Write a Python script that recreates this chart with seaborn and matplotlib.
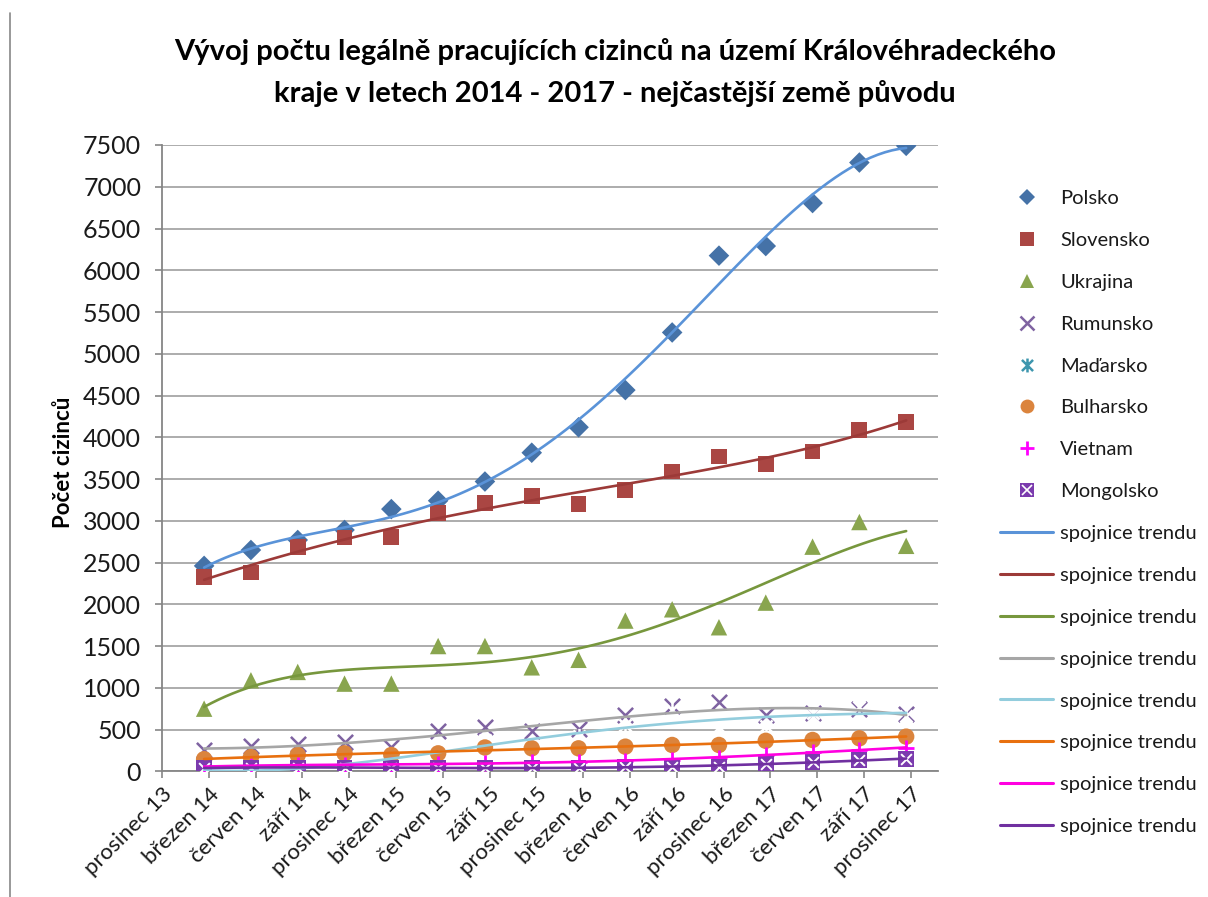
import numpy as np
import pandas as pd
import matplotlib
matplotlib.use("Agg")
import matplotlib.pyplot as plt
import seaborn as sns
from matplotlib.path import Path
from matplotlib.lines import Line2D
from matplotlib.legend_handler import HandlerTuple

# ---------------- data ----------------
tick_labels = ["prosinec 13", "březen 14", "červen 14", "září 14", "prosinec 14",
               "březen 15", "červen 15", "září 15", "prosinec 15", "březen 16",
               "červen 16", "září 16", "prosinec 16", "březen 17", "červen 17",
               "září 17", "prosinec 17"]
quarter_index = list(range(1, 17))  # březen 14 .. prosinec 17

polsko = [2460, 2650, 2770, 2890, 3140, 3240, 3470, 3815, 4120, 4565, 5255, 6175, 6290, 6805, 7290, 7490]
slovensko = [2330, 2380, 2685, 2800, 2810, 3090, 3210, 3300, 3200, 3370, 3590, 3770, 3680, 3830, 4085, 4185]
ukrajina = [750, 1090, 1190, 1050, 1050, 1500, 1500, 1245, 1335, 1805, 1940, 1725, 2020, 2690, 2985, 2700]
rumunsko = [255, 300, 325, 355, 295, 485, 535, 485, 505, 670, 780, 830, 670, 700, 745, 690]
madarsko = [10, 20, 35, 60, 110, 300, 380, 260, 420, 550, 740, 535, 545, 695, 775, 660]
bulharsko = [145, 170, 195, 215, 195, 215, 285, 275, 275, 295, 315, 315, 365, 375, 395, 415]
vietnam = [60, 65, 70, 80, 80, 90, 95, 110, 115, 125, 140, 160, 200, 230, 260, 280]
mongolsko = [40, 45, 45, 45, 40, 40, 40, 45, 45, 50, 55, 55, 90, 110, 140, 145]

series_names = ["Polsko", "Slovensko", "Ukrajina", "Rumunsko", "Maďarsko",
                "Bulharsko", "Vietnam", "Mongolsko"]
series_values = [polsko, slovensko, ukrajina, rumunsko, madarsko,
                 bulharsko, vietnam, mongolsko]
trend_label = "spojnice trendu"
title = "Vývoj počtu legálně pracujících cizinců na území Královéhradeckého\nkraje v letech 2014 - 2017 - nejčastější země původu"
y_label = "Počet cizinců"

# ---------------- style ----------------
sns.set_theme(style="white")
plt.rcParams["font.family"] = ["Lato", "DejaVu Sans"]

star = Path([(-1, -1), (1, 1), (-1, 1), (1, -1), (0, -1.25), (0, 1.25)],
            [Path.MOVETO, Path.LINETO, Path.MOVETO, Path.LINETO, Path.MOVETO, Path.LINETO])

marker_styles = {
    "Polsko":    dict(marker="D", color="#4572A7", s=110, lw=0),
    "Slovensko": dict(marker="s", color="#AA4643", s=130, lw=0),
    "Ukrajina":  dict(marker="^", color="#89A54E", s=140, lw=0),
    "Rumunsko":  dict(marker="x", color="#7F63A1", s=120, lw=1.8),
    "Maďarsko":  dict(marker=star, color="#3D96AE", s=120, lw=1.8),
    "Bulharsko": dict(marker="o", color="#DB843D", s=140, lw=0),
    "Vietnam":   dict(marker="+", color="#FF00FF", s=120, lw=2.0),
    "Mongolsko": dict(marker="s", color="#7B3BAE", s=130, lw=0),
}
trend_colors = ["#5A93D8", "#9C3A38", "#77973D", "#A6A6A6", "#93CDDD",
                "#E8700F", "#FF00E0", "#7030A0"]
trend_order = 4
x_offset = -0.1

W, H = 1208, 897
fig = plt.figure(figsize=(W / 100, H / 100), dpi=100)
ax = fig.add_axes([162 / W, 1 - 771.3 / H, (938 - 162) / W, (771.3 - 145) / H])

rows = []
for name, vals in zip(series_names, series_values):
    for q, v in zip(quarter_index, vals):
        rows.append(dict(country=name, pos=q + x_offset, value=v))
df = pd.DataFrame(rows)

for name in series_names:
    d = df[df.country == name]
    st = marker_styles[name]
    if name in ("Rumunsko", "Maďarsko", "Vietnam"):
        sns.scatterplot(data=d, x="pos", y="value", ax=ax, marker=st["marker"],
                        s=st["s"], color=st["color"], linewidth=st["lw"], zorder=3)
    else:
        sns.scatterplot(data=d, x="pos", y="value", ax=ax, marker=st["marker"],
                        s=st["s"], color=st["color"], edgecolor="none", linewidth=0, zorder=3)
    if name == "Mongolsko":
        sns.scatterplot(data=d, x="pos", y="value", ax=ax, marker="x",
                        s=60, color="white", linewidth=1.4, zorder=3.1)

for name, c in zip(series_names, trend_colors):
    d = df[df.country == name]
    sns.regplot(data=d, x="pos", y="value", ax=ax, order=trend_order, ci=None,
                scatter=False, truncate=True, line_kws=dict(color=c, lw=1.9, zorder=4))

ax.set_xlim(0, 16.58)
ax.set_ylim(0, 7500)
ax.set_yticks(np.arange(0, 7501, 500))
ax.set_xticks(range(len(tick_labels)))
ax.set_xticklabels(tick_labels, rotation=45, ha="right", va="top",
                   rotation_mode="anchor", fontsize=16, color="#1a1a1a")
ax.tick_params(axis="y", labelsize=18, labelcolor="#1a1a1a", length=5,
               color="#868686", width=1.2, direction="out", left=True, pad=10)
ax.tick_params(axis="x", length=5, color="#868686", width=1.2, direction="out",
               bottom=True, pad=4)
ax.yaxis.grid(True, color="#A6A6A6", lw=1.3)
ax.xaxis.grid(False)
ax.set_axisbelow(True)
for sp in ("top", "right"):
    ax.spines[sp].set_visible(False)
for sp in ("left", "bottom"):
    ax.spines[sp].set_color("#868686")
    ax.spines[sp].set_linewidth(1.3)
ax.set_xlabel("")
ax.set_ylabel(y_label, fontsize=16, fontweight="bold", color="black")
ax.yaxis.set_label_coords(-0.114, 0.494)

fig.suptitle(title, x=615 / W, y=1 - 38 / H, fontsize=21, fontweight="bold",
             linespacing=1.68, va="top", color="black")

# legend
handles, labels = [], []
for name in series_names:
    st = marker_styles[name]
    ms = 10 if st["marker"] != "D" else 8
    mew = st["lw"] if st["lw"] else 0
    h = Line2D([], [], linestyle="none", marker=st["marker"], color=st["color"],
               markersize=ms, markeredgewidth=mew if mew else 0.0)
    if name == "Mongolsko":
        h = (h, Line2D([], [], linestyle="none", marker="x", color="white",
                       markersize=6.5, markeredgewidth=1.2))
    handles.append(h)
    labels.append(name)
for c in trend_colors:
    handles.append(Line2D([], [], color=c, lw=2.2))
    labels.append(trend_label)

fig.legend(handles, labels, loc="upper left", bbox_to_anchor=(1000 / W, 1 - 190 / H),
           frameon=False, fontsize=14.5, handlelength=2.65, handletextpad=0.35,
           labelspacing=1.23, borderaxespad=0, borderpad=0,
           handler_map={tuple: HandlerTuple(ndivide=1)}, labelcolor="#1a1a1a")

fig.add_artist(Line2D([10 / W, 10 / W], [0, 0.985], transform=fig.transFigure,
                      color="#888888", lw=1.2))

fig.savefig("out.png", dpi=100)
